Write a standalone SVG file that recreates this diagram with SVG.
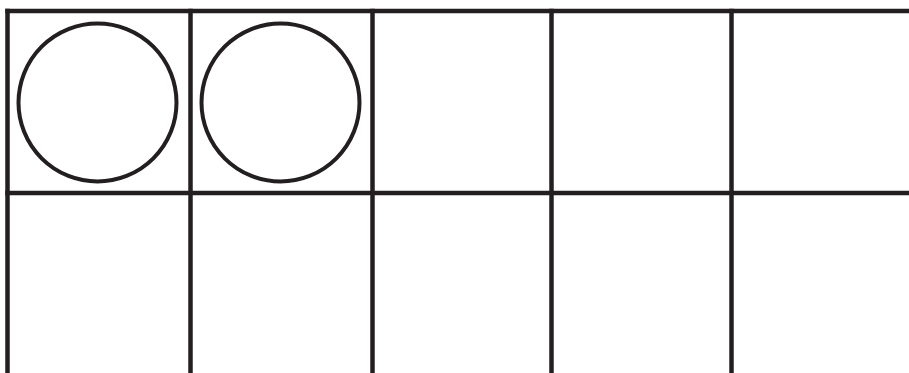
<svg xmlns="http://www.w3.org/2000/svg" width="909" height="373" viewBox="0 0 909 373">
<style>
.ln{stroke:#231f20;stroke-width:4.5;fill:none}
.c{stroke:#231f20;stroke-width:4;fill:none}
</style>
<rect width="909" height="373" fill="#fff"/>
<g id="grid">
<line class="ln" x1="5.25" y1="11" x2="909" y2="11"/>
<line class="ln" x1="5.25" y1="193" x2="909" y2="193"/>
<line class="ln" x1="7.5" y1="8.75" x2="7.5" y2="373"/>
<line class="ln" x1="190.5" y1="8.75" x2="190.5" y2="373"/>
<line class="ln" x1="372.5" y1="8.75" x2="372.5" y2="373"/>
<line class="ln" x1="551.5" y1="8.75" x2="551.5" y2="373"/>
<line class="ln" x1="731.5" y1="8.75" x2="731.5" y2="373"/>
</g>
<g id="counter1"><circle class="c" cx="97.5" cy="102.5" r="79"/></g>
<g id="counter2"><circle class="c" cx="280.5" cy="102.5" r="79"/></g>
</svg>
